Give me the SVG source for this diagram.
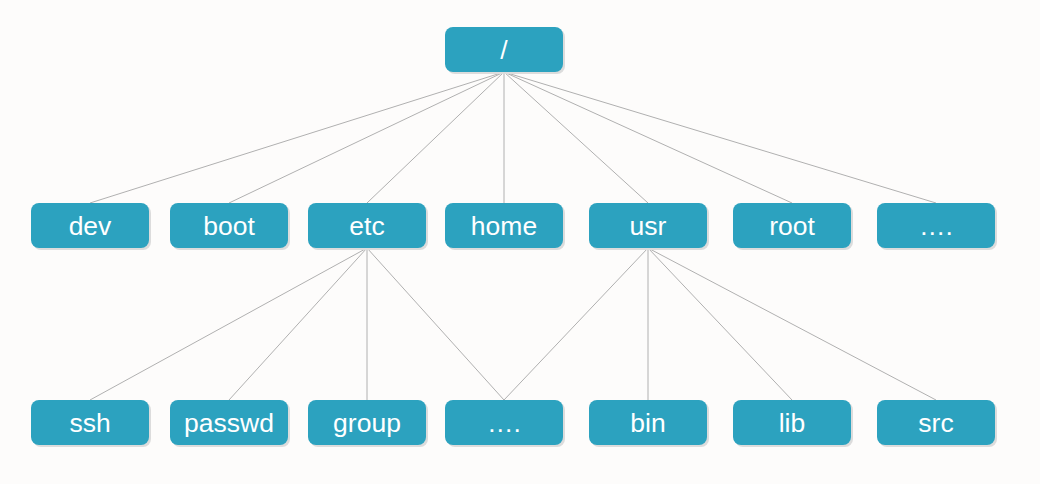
<svg xmlns="http://www.w3.org/2000/svg" width="1040" height="484" viewBox="0 0 1040 484">
<style>
.bg{fill:#fdfcfb}
.sh{fill:#dcdcdc}
.box{fill:#2ca2bf}
.t{fill:#ffffff;font-family:"Liberation Sans",Arial,sans-serif;font-size:26.5px;text-anchor:middle}
.c line{stroke:#b0b0b0;stroke-width:1}
</style>
<defs>
<g id="n"><rect class="sh" x="2" y="2" width="118" height="45" rx="8"/><rect class="box" x="0" y="0" width="118" height="45" rx="8"/></g>
</defs>
<rect class="bg" width="1040" height="484"/>
<g class="c" id="connectors">
<line x1="504" y1="72" x2="90" y2="203"/>
<line x1="504" y1="72" x2="229" y2="203"/>
<line x1="504" y1="72" x2="367" y2="203"/>
<line x1="504" y1="72" x2="504" y2="203"/>
<line x1="504" y1="72" x2="648" y2="203"/>
<line x1="504" y1="72" x2="792" y2="203"/>
<line x1="504" y1="72" x2="936" y2="203"/>
<line x1="367" y1="248" x2="90" y2="400"/>
<line x1="367" y1="248" x2="229" y2="400"/>
<line x1="367" y1="248" x2="367" y2="400"/>
<line x1="367" y1="248" x2="504" y2="400"/>
<line x1="648" y1="248" x2="504" y2="400"/>
<line x1="648" y1="248" x2="648" y2="400"/>
<line x1="648" y1="248" x2="792" y2="400"/>
<line x1="648" y1="248" x2="936" y2="400"/>
</g>
<g id="root"><use href="#n" x="445" y="27"/><text class="t" x="504" y="59">/</text></g>
<g id="dev"><use href="#n" x="31" y="203"/><text class="t" x="90" y="235">dev</text></g>
<g id="boot"><use href="#n" x="170" y="203"/><text class="t" x="229" y="235">boot</text></g>
<g id="etc"><use href="#n" x="308" y="203"/><text class="t" x="367" y="235">etc</text></g>
<g id="home"><use href="#n" x="445" y="203"/><text class="t" x="504" y="235">home</text></g>
<g id="usr"><use href="#n" x="589" y="203"/><text class="t" x="648" y="235">usr</text></g>
<g id="rootdir"><use href="#n" x="733" y="203"/><text class="t" x="792" y="235">root</text></g>
<g id="more1"><use href="#n" x="877" y="203"/><text class="t" x="936" y="235">….</text></g>
<g id="ssh"><use href="#n" x="31" y="400"/><text class="t" x="90" y="432">ssh</text></g>
<g id="passwd"><use href="#n" x="170" y="400"/><text class="t" x="229" y="432">passwd</text></g>
<g id="group"><use href="#n" x="308" y="400"/><text class="t" x="367" y="432">group</text></g>
<g id="more2"><use href="#n" x="445" y="400"/><text class="t" x="504" y="432">….</text></g>
<g id="bin"><use href="#n" x="589" y="400"/><text class="t" x="648" y="432">bin</text></g>
<g id="lib"><use href="#n" x="733" y="400"/><text class="t" x="792" y="432">lib</text></g>
<g id="src"><use href="#n" x="877" y="400"/><text class="t" x="936" y="432">src</text></g>
</svg>
